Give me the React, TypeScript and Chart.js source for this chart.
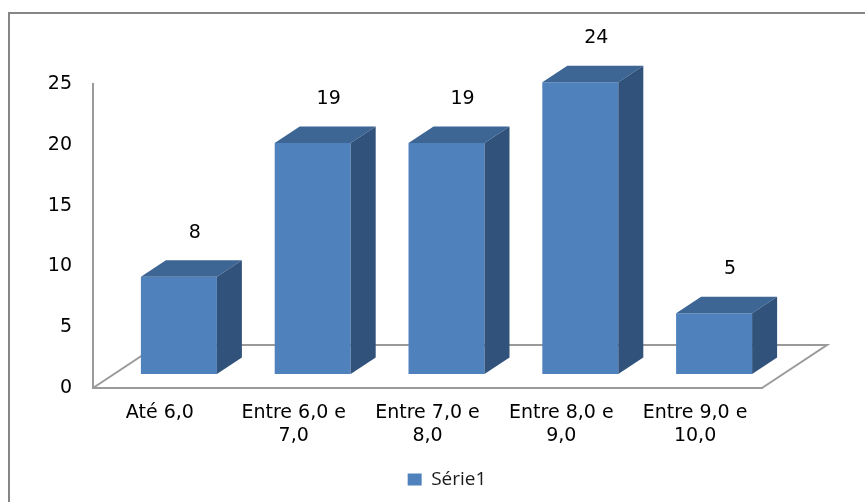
import React, { useEffect, useRef } from "react";
import { Chart, registerables } from "chart.js";

Chart.register(...registerables);

// ---- data ----
const categories: (string | string[])[] = [
  "Até 6,0",
  ["Entre 6,0 e", "7,0"],
  ["Entre 7,0 e", "8,0"],
  ["Entre 8,0 e", "9,0"],
  ["Entre 9,0 e", "10,0"],
];
const seriesName = "Série1";
const values = [8, 19, 19, 24, 5];
const yTicks = [0, 5, 10, 15, 20, 25];

// ---- style ----
const FRONT = "#4F81BD";
const TOP = "#3D6695";
const SIDE = "#30527B";
const LINE = "#9A9A9A";
const FRAME = "#868686";
const FLOOR_DX = 65;
const FLOOR_DY = -43;
const SHIFT_X = 19;
const SHIFT_Y = -14;
const DEPTH_X = 25;
const DEPTH_Y = -16.5;
const TICK_FONT = { family: "'DejaVu Sans', sans-serif", size: 19 };

const bars3d = {
  id: "bars3d",
  beforeDraw(chart: any) {
    const ctx = chart.ctx;
    ctx.save();
    ctx.strokeStyle = FRAME;
    ctx.lineWidth = 2;
    ctx.beginPath();
    ctx.moveTo(9, chart.height);
    ctx.lineTo(9, 13);
    ctx.lineTo(chart.width, 13);
    ctx.stroke();
    ctx.restore();
  },
  beforeDatasetsDraw(chart: any) {
    const ctx = chart.ctx;
    const a = chart.chartArea;
    ctx.save();
    ctx.strokeStyle = LINE;
    ctx.lineWidth = 2;
    ctx.beginPath();
    ctx.moveTo(a.left, a.bottom);
    ctx.lineTo(a.left + FLOOR_DX, a.bottom + FLOOR_DY);
    ctx.lineTo(a.right + FLOOR_DX, a.bottom + FLOOR_DY);
    ctx.lineTo(a.right, a.bottom);
    ctx.stroke();
    ctx.restore();
    ctx.save();
    ctx.translate(SHIFT_X, SHIFT_Y);
  },
  afterDatasetsDraw(chart: any) {
    const ctx = chart.ctx;
    const meta = chart.getDatasetMeta(0);
    meta.data.forEach((bar: any) => {
      const { x, y, base, width } = bar.getProps(["x", "y", "base", "width"], true);
      const l = x - width / 2;
      const r = x + width / 2;
      ctx.fillStyle = TOP;
      ctx.beginPath();
      ctx.moveTo(l, y);
      ctx.lineTo(l + DEPTH_X, y + DEPTH_Y);
      ctx.lineTo(r + DEPTH_X, y + DEPTH_Y);
      ctx.lineTo(r, y);
      ctx.closePath();
      ctx.fill();
      ctx.fillStyle = SIDE;
      ctx.beginPath();
      ctx.moveTo(r, y);
      ctx.lineTo(r + DEPTH_X, y + DEPTH_Y);
      ctx.lineTo(r + DEPTH_X, base + DEPTH_Y);
      ctx.lineTo(r, base);
      ctx.closePath();
      ctx.fill();
    });
    ctx.restore();
    // data labels
    ctx.save();
    ctx.fillStyle = "#000";
    ctx.font = `${TICK_FONT.size}px ${TICK_FONT.family}`;
    ctx.textAlign = "center";
    ctx.textBaseline = "middle";
    meta.data.forEach((bar: any, i: number) => {
      const { x, y } = bar.getProps(["x", "y"], true);
      ctx.fillText(String(values[i]), x + 35, y - 58);
    });
    ctx.restore();
  },
};

export default function App() {
  const ref = useRef<HTMLCanvasElement | null>(null);
  useEffect(() => {
    if (!ref.current) return;
    const chart = new Chart(ref.current, {
      type: "bar",
      data: {
        labels: categories,
        datasets: [
          {
            label: seriesName,
            data: values,
            backgroundColor: FRONT,
            borderWidth: 0,
            barPercentage: 0.568,
            categoryPercentage: 1,
            clip: false as any,
          },
        ],
      },
      options: {
        responsive: false,
        animation: false,
        devicePixelRatio: 1,
        layout: { padding: { left: 29, top: 84, right: 0, bottom: 3 } },
        plugins: {
          tooltip: { enabled: false },
          legend: {
            position: "bottom",
            labels: {
              boxWidth: 14,
              boxHeight: 12,
              padding: 10,
              color: "#1a1a1a",
              font: { family: "'Open Sans', sans-serif", size: 19 },
            },
          },
        },
        scales: {
          x: {
            grid: { display: false, drawTicks: false },
            border: { display: true, color: LINE, width: 2 },
            ticks: { color: "#000", font: TICK_FONT, padding: 14, maxRotation: 0, autoSkip: false },
            afterFit: (s: any) => {
              s.height = 72;
            },
          },
          y: {
            min: 0,
            max: 25,
            grid: { display: false, drawTicks: false },
            border: { display: true, color: LINE, width: 2 },
            ticks: { color: "#000", font: TICK_FONT, padding: 21 },
            afterBuildTicks: (s: any) => {
              s.ticks = yTicks.map((v) => ({ value: v }));
            },
            afterFit: (s: any) => {
              s.width = 64;
            },
          },
          yDummy: {
            position: "right",
            display: true,
            grid: { display: false },
            border: { display: false },
            ticks: { display: false },
            afterFit: (s: any) => {
              s.width = 103;
            },
          },
        },
      },
      plugins: [bars3d],
    });
    return () => chart.destroy();
  }, []);
  return (
    <div style={{ position: "fixed", left: 0, top: 0, width: 865, height: 502, background: "#fff" }}>
      <canvas ref={ref} width={865} height={502} style={{ display: "block" }} />
    </div>
  );
}
